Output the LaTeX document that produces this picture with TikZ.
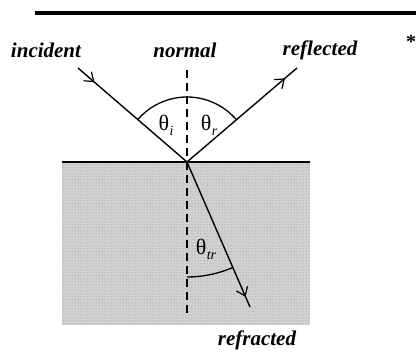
\documentclass[tikz,border=0pt]{standalone}
\usepackage{fontspec}
\setmainfont{Liberation Serif}
\newfontfamily\grk{Liberation Serif}
\usetikzlibrary{arrows.meta,decorations.markings,patterns}
\tikzset{
  ray/.style={line width=1.4pt},
  lbl/.style={font=\fontsize{21}{23}\selectfont\bfseries\itshape, inner sep=0pt},
  ang/.style={font=\fontsize{22}{24}\selectfont\grk, inner sep=0pt},
  dashnormal/.style={line width=1.8pt, dash pattern=on 8pt off 5pt},
  midarrow/.style={postaction={decorate}, decoration={markings, mark=at position #1 with {\arrow{Straight Barb[length=8pt,width=12pt,line width=1.2pt]}}}},
}
\newcommand{\thsub}[1]{θ\kern0.5pt\raisebox{-5pt}{\fontsize{14}{14}\selectfont\itshape #1}}
\begin{document}
\begin{tikzpicture}[x=1pt,y=1pt]
\useasboundingbox (0,0) rectangle (416,354);
\fill[white] (0,0) rectangle (416,354);
% top rule
\coordinate (TL) at (35,341);
\coordinate (TR) at (416,341);
\draw[line width=4pt] (TL) -- (TR);
% medium
\coordinate (M1) at (62,29);
\coordinate (M2) at (310,192);
\fill[gray!35] (M1) rectangle (M2);
\fill[pattern=dots, pattern color=black!45] (M1) rectangle (M2);
\draw[line width=1.8pt] (62,192) -- (310,192);
% points
\coordinate (O) at (187,192);
\coordinate (A) at (78,286);
\coordinate (R) at (297,286);
\coordinate (T) at (250,47);
\coordinate (N1) at (187,284);
\coordinate (N2) at (187,37);
% normal
\draw[dashnormal] (N1) -- (O);
\draw[dashnormal] (O) -- (N2);
% rays
\draw[ray, midarrow=0.15] (A) -- (O);
\draw[ray, midarrow=0.89] (O) -- (R);
\draw[ray, midarrow=0.93] (O) -- (T);
% arcs
\draw[line width=1.3pt] ([shift={(41:65)}]O) arc[start angle=41, end angle=139, radius=65];
\draw[line width=1.3pt] ([shift={(-90:115)}]O) arc[start angle=-90, end angle=-66.5, radius=115];
% labels
\node[lbl] (incident) at (46,304) {incident};
\node[lbl] (normal) at (185,304) {normal};
\node[lbl] (reflected) at (320,304) {reflected};
\node[lbl] (refracted) at (257,14) {refracted};
\node[font=\fontsize{20}{22}\selectfont\bfseries, inner sep=0pt] (star) at (411,312) {*};
\node[ang] (ti) at (166,229) {\thsub{i}};
\node[ang] (tr) at (209,229) {\thsub{r}};
\node[ang] (ttr) at (206,105) {\thsub{tr}};
\end{tikzpicture}
\end{document}
